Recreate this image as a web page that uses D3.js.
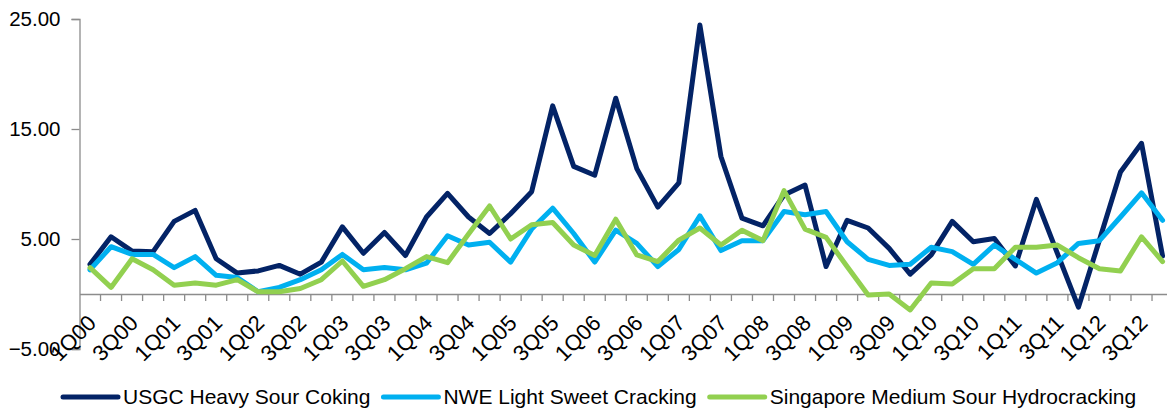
<!DOCTYPE html>
<html><head><meta charset="utf-8">
<script src="https://cdn.jsdelivr.net/npm/d3@7"></script>
<style>
html,body{margin:0;padding:0;background:#fff;}
svg{display:block;font-family:"Liberation Sans",Arial,sans-serif;}
</style></head>
<body>
<svg id="chart" width="1167" height="411"></svg>
<script>
const quarters = [];
for (let y = 0; y <= 12; y++) for (let q = 1; q <= 4; q++) quarters.push(q + "Q" + String(y).padStart(2, "0"));

const usgc = [2.7,5.2,3.9,3.85,6.6,7.6,3.2,1.9,2.1,2.6,1.8,2.9,6.1,3.7,5.6,3.5,7.0,9.15,7.0,5.5,7.3,9.3,17.1,11.6,10.8,17.8,11.4,7.9,10.1,24.45,12.5,6.9,6.2,9.0,9.9,2.5,6.7,6.0,4.15,1.8,3.55,6.6,4.75,5.05,2.55,8.6,3.7,-1.2,4.9,11.1,13.7,3.45];
const nwe = [2.2,4.3,3.6,3.6,2.4,3.4,1.7,1.5,0.2,0.6,1.3,2.2,3.6,2.2,2.4,2.2,2.8,5.3,4.45,4.7,2.9,5.9,7.8,5.5,2.9,5.8,4.6,2.5,4.05,7.1,3.95,4.85,4.85,7.5,7.2,7.5,4.75,3.15,2.6,2.7,4.25,3.85,2.7,4.45,3.15,1.9,2.85,4.6,4.85,7.0,9.2,6.7];
const singapore = [2.4,0.6,3.2,2.2,0.8,1.0,0.8,1.3,0.2,0.2,0.5,1.3,3.0,0.7,1.3,2.3,3.4,2.85,5.45,8.0,5.0,6.3,6.5,4.45,3.5,6.8,3.55,2.95,4.9,6.0,4.45,5.8,4.85,9.4,5.9,5.15,2.5,-0.1,0.0,-1.45,1.0,0.9,2.3,2.3,4.25,4.25,4.45,3.3,2.3,2.1,5.2,2.95];

const seriesNames = ["USGC Heavy Sour Coking", "NWE Light Sweet Cracking", "Singapore Medium Sour Hydrocracking"];
const seriesColors = ["#032366", "#00b0f0", "#92d050"];
const seriesData = [usgc, nwe, singapore];
const yTicks = [-5, 5, 15, 25];

const svg = d3.select("#chart");
const x = d3.scaleBand().domain(quarters).range([79.5, 79.5 + 52 * 21.03]).paddingInner(0).paddingOuter(0);
const y = d3.scaleLinear().domain([-5, 25]).range([349, 19]);
const axisColor = "#8c8c8c";

// Y axis
const yAxis = d3.axisLeft(y).tickValues(yTicks).tickFormat(d3.format(".2f")).tickSize(8).tickPadding(11);
const gy = svg.append("g").attr("transform", "translate(79.5,0)").call(yAxis);
gy.select(".domain").attr("stroke", axisColor).attr("stroke-width", 1.3);
gy.selectAll(".tick line").attr("stroke", axisColor).attr("stroke-width", 1.3);
gy.selectAll(".tick text").attr("font-size", 20.5).attr("fill", "#000").attr("font-family", "Liberation Sans, Arial, sans-serif");

// X axis at zero
const xAxis = d3.axisBottom(x).tickSize(0).tickFormat("");
const gx = svg.append("g").attr("transform", `translate(0,${y(0)})`).call(xAxis);
gx.select(".domain").attr("stroke", axisColor).attr("stroke-width", 1.3);
// tick marks at band boundaries
gx.selectAll(".bnd").data(quarters).enter().append("line")
  .attr("x1", d => x(d) + x.bandwidth()).attr("x2", d => x(d) + x.bandwidth())
  .attr("y1", 0).attr("y2", 7).attr("stroke", axisColor).attr("stroke-width", 1.3);
// labels every other quarter
gx.selectAll(".lbl").data(quarters.filter((d, i) => i % 2 === 0)).enter().append("text")
  .attr("transform", d => `translate(${x(d) + x.bandwidth() / 2 + 2},${25}) rotate(-45)`)
  .attr("text-anchor", "end").attr("dy", "0.35em")
  .attr("font-size", 22).attr("fill", "#000")
  .text(d => d);

// Lines
const line = d3.line().x((d, i) => x(quarters[i]) + x.bandwidth() / 2).y(d => y(d));
[0, 1, 2].forEach(k => {
  svg.append("path").datum(seriesData[k]).attr("d", line)
    .attr("fill", "none").attr("stroke", seriesColors[k]).attr("stroke-width", 5)
    .attr("stroke-linejoin", "round").attr("stroke-linecap", "round");
});

// Legend
let lx = 63;
const ly = 397;
seriesNames.forEach((name, k) => {
  svg.append("line").attr("x1", lx).attr("x2", lx + 55).attr("y1", ly).attr("y2", ly)
    .attr("stroke", seriesColors[k]).attr("stroke-width", 5).attr("stroke-linecap", "round");
  const t = svg.append("text").attr("x", lx + 60).attr("y", ly + 7).attr("font-size", 21).attr("fill", "#000").text(name);
  lx = lx + 60 + t.node().getComputedTextLength() + 13;
});
</script>
</body></html>
